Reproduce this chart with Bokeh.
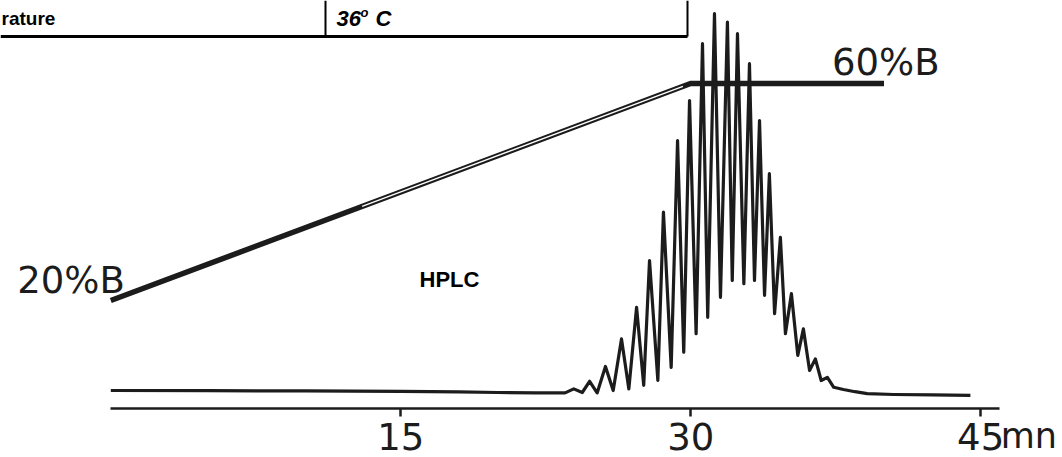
from bokeh.plotting import figure
from bokeh.models import Range1d, FixedTicker
from bokeh.core.properties import value
from bokeh.embed import file_html
from bokeh.resources import INLINE
import numpy as np

# ---------------- data ----------------
# elution time (min) and detector response (arbitrary units)
chrom_t = [0.0, 5.0, 10.0, 15.0, 18.0, 20.0, 22.0, 23.5,
           23.95, 24.39, 24.77, 25.16, 25.59, 25.99, 26.42, 26.80, 27.20, 27.57,
           27.87, 28.30, 28.59, 28.99, 29.32, 29.64, 29.94, 30.28, 30.61, 30.88,
           31.23, 31.54, 31.90, 32.15, 32.42, 32.75, 33.04, 33.30, 33.56, 33.82,
           34.07, 34.34, 34.64, 34.90, 35.21, 35.54, 35.83, 36.15, 36.45, 36.75,
           37.07, 37.40, 37.90, 38.50, 39.13, 40.5, 42.5, 44.47]
chrom_y = [4.5, 4.45, 4.4, 4.3, 4.15, 4.0, 3.9, 3.9,
           4.9, 4.0, 6.8, 3.9, 10.5, 4.5, 17.4, 4.9, 25.3, 5.8,
           37.0, 7.0, 49.1, 10.3, 67.0, 14.1, 77.0, 18.7, 91.2, 22.8,
           98.7, 27.8, 96.6, 32.0, 93.7, 31.2, 86.2, 32.0, 72.0, 28.3,
           58.7, 23.7, 42.8, 18.7, 28.7, 13.3, 19.9, 9.5, 12.4, 7.0,
           7.8, 5.3, 4.75, 4.2, 3.7, 3.5, 3.4, 3.3]

# solvent gradient (% B)
grad_t = [0, 30, 40]
grad_B = [20, 60, 60]

x_ticks = [15, 30, 45]
x_tick_labels = ["15", "30", "45"]
time_unit = "mn"
method_label = "HPLC"
table_left = "rature"
table_temp = "36"
table_deg = "o"
table_unit = "C"

# ---------------- layout helpers (canvas pixels -> plot coords) ----------------
PX0, PXS = 110.3, 19.33        # canvas x of t=0, px per minute
PY0, PYS = 408.0, 4.0          # canvas y of response 0, px per unit
BY0, BYS = 300.0, 5.425        # canvas y of 20 %B, px per %B
W, H = 1062, 457


def tx(px):
    return (px - PX0) / PXS


def ty(py):
    return (PY0 - py) / PYS


def tb(py):
    return 20 + (BY0 - py) / BYS


p = figure(width=W, height=H, output_backend="svg", toolbar_location=None,
           x_range=Range1d(tx(0), tx(W)), y_range=Range1d(ty(H), ty(0)),
           y_axis_location=None, min_border=0, min_border_left=0,
           min_border_right=0, min_border_top=0, min_border_bottom=0)
p.extra_y_ranges = {"B": Range1d(tb(H), tb(0))}
p.outline_line_color = None
p.grid.visible = False
p.background_fill_color = "white"

INK = "#1c1c1c"
HAND = "DejaVu Sans"
TYPE = "Liberation Sans"

# time axis
ax = p.xaxis[0]
ax.fixed_location = 0
ax.bounds = (0, 46)
ax.ticker = FixedTicker(ticks=x_ticks)
ax.major_label_overrides = dict(zip(x_ticks, x_tick_labels))
ax.minor_tick_line_color = None
ax.major_tick_in = 0
ax.major_tick_out = 8
ax.major_tick_line_width = 2.5
ax.major_tick_line_color = INK
ax.axis_line_width = 2.5
ax.axis_line_color = INK
ax.major_label_text_font = HAND
ax.major_label_text_font_size = "37px"
ax.major_label_text_color = INK
ax.major_label_standoff = 6

# table fragment at top
p.segment(x0=[tx(0), tx(325), tx(687)], y0=[ty(36), ty(0), ty(0)],
          x1=[tx(687), tx(325), tx(687)], y1=[ty(36), ty(36), ty(36)],
          line_color="black", line_width=[3, 2, 2])
p.text(x=[tx(1)], y=[ty(17.5)], text=[table_left], text_font=value(TYPE),
       text_font_style="bold", text_font_size="19px", text_color="black",
       text_baseline="middle", text_align="left")
p.text(x=[tx(336)], y=[ty(17.5)], text=[table_temp], text_font=value(TYPE),
       text_font_style="bold italic", text_font_size="22px", text_color="black",
       text_baseline="middle", text_align="left")
p.text(x=[tx(360)], y=[ty(11.5)], text=[table_deg], text_font=value(TYPE),
       text_font_style="bold italic", text_font_size="13px", text_color="black",
       text_baseline="middle", text_align="left")
p.text(x=[tx(375)], y=[ty(17.5)], text=[table_unit], text_font=value(TYPE),
       text_font_style="bold italic", text_font_size="22px", text_color="black",
       text_baseline="middle", text_align="left")

# gradient line (%B)
p.line(grad_t, grad_B, y_range_name="B", line_color=INK, line_width=5.5,
       line_join="miter")
core_t = [13.0, 29.6]
core_B = list(np.interp(core_t, grad_t, grad_B))
p.line(core_t, core_B, y_range_name="B", line_color="white", line_width=1.4)

p.text(x=[grad_t[0]], y=[grad_B[0]], text=[f"{grad_B[0]}%B"], y_range_name="B",
       x_offset=14, y_offset=-20, text_align="right", text_baseline="middle",
       text_font=value(HAND), text_font_size="37px", text_color=INK)
p.text(x=[grad_t[-1]], y=[grad_B[-1]], text=[f"{grad_B[-1]}%B"], y_range_name="B",
       x_offset=-52, y_offset=-21, text_align="left", text_baseline="middle",
       text_font=value(HAND), text_font_size="37px", text_color=INK)

# chromatogram
p.line(chrom_t, chrom_y, line_color=INK, line_width=3.2, line_join="round")

p.text(x=[tx(419)], y=[ty(278.5)], text=[method_label], text_font=value(TYPE),
       text_font_style="bold", text_font_size="22px", text_color="black",
       text_baseline="middle", text_align="left")

# unit after the last tick label
p.text(x=[x_ticks[-1]], y=[0], text=[time_unit], x_offset=20, y_offset=47,
       text_align="left", text_baseline="bottom",
       text_font=value(HAND), text_font_size="35px", text_color=INK)

open("out.html", "w").write(file_html(p, INLINE))
